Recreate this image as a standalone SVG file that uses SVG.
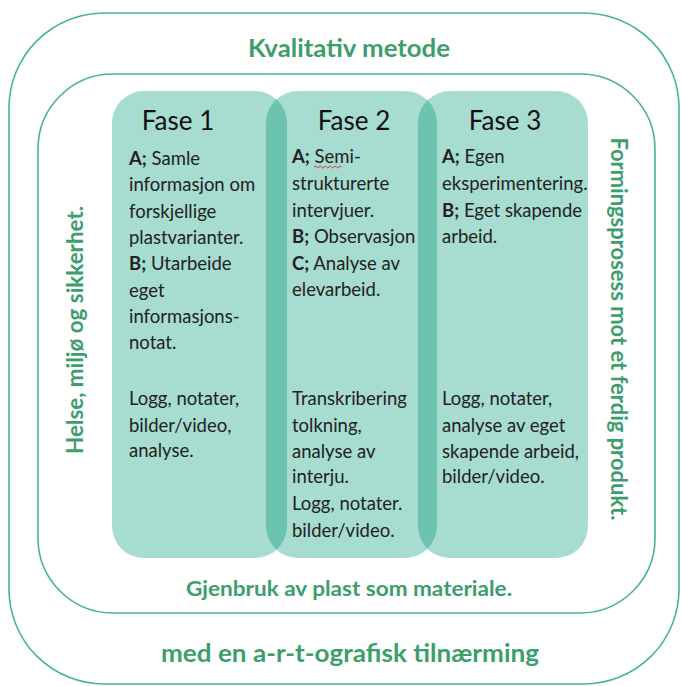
<svg xmlns="http://www.w3.org/2000/svg" width="681" height="686" viewBox="0 0 681 686">
<defs>
<style>
.frame{fill:none;stroke:#45b497;stroke-width:1.6}
.phase{fill:#a7dcd0}
.ov{fill:#6cc3af}
.g{fill:#3c9e6b;font-family:Lato,"Open Sans",sans-serif;font-weight:bold}
.h{font-family:Lato,"Open Sans",sans-serif;font-size:26px;fill:#111;text-anchor:middle}
.t{font-family:Lato,"Open Sans",sans-serif;font-size:18.5px;fill:#222}
.b{font-weight:bold}
</style>
<clipPath id="c1"><rect x="112" y="91" width="175" height="467" rx="32"/></clipPath>
<clipPath id="c3"><rect x="418" y="91" width="170" height="467" rx="32"/></clipPath>
</defs>
<g id="outer"><rect class="frame" x="9" y="13" width="670" height="671" rx="95"/>
<text class="g" x="349" y="57" font-size="24" text-anchor="middle" textLength="202" lengthAdjust="spacingAndGlyphs">Kvalitativ metode</text>
<text class="g" x="350" y="662" font-size="24" text-anchor="middle" textLength="378" lengthAdjust="spacingAndGlyphs">med en a-r-t-ografisk tilnærming</text></g>
<g id="inner"><rect class="frame" x="38" y="74" width="617" height="539" rx="75"/>
<text class="g" x="349" y="596" font-size="21" text-anchor="middle" textLength="326" lengthAdjust="spacingAndGlyphs">Gjenbruk av plast som materiale.</text>
<text class="g" font-size="22" text-anchor="middle" textLength="248" lengthAdjust="spacingAndGlyphs" transform="translate(83,330) rotate(-90)">Helse, miljø og sikkerhet.</text>
<text class="g" font-size="22" text-anchor="middle" textLength="383" lengthAdjust="spacingAndGlyphs" transform="translate(611,329) rotate(90)">Formingsprosess mot et ferdig produkt.</text></g>
<g id="phases">
<rect class="phase" x="112" y="91" width="175" height="467" rx="32"/>
<rect class="phase" x="266" y="91" width="171" height="467" rx="32"/>
<rect class="phase" x="418" y="91" width="170" height="467" rx="32"/>
<rect class="ov" x="266" y="91" width="171" height="467" rx="32" clip-path="url(#c1)"/>
<rect class="ov" x="266" y="91" width="171" height="467" rx="32" clip-path="url(#c3)"/>
</g>
<g id="fase1">
<text class="h" x="178" y="130">Fase 1</text>
<text class="t" x="129"><tspan x="129" y="165"><tspan class="b">A;</tspan> Samle</tspan><tspan x="129" y="191">informasjon om</tspan><tspan x="129" y="218">forskjellige</tspan><tspan x="129" y="244">plastvarianter.</tspan><tspan x="129" y="270"><tspan class="b">B;</tspan> Utarbeide</tspan><tspan x="129" y="297">eget</tspan><tspan x="129" y="323">informasjons-</tspan><tspan x="129" y="349">notat.</tspan></text>
<text class="t"><tspan x="129" y="405">Logg, notater,</tspan><tspan x="129" y="432">bilder/video,</tspan><tspan x="129" y="457">analyse.</tspan></text>
</g>
<g id="fase2">
<text class="h" x="354" y="130">Fase 2</text>
<text class="t"><tspan x="292" y="163"><tspan class="b">A;</tspan> Semi-</tspan><tspan x="292" y="190">strukturerte</tspan><tspan x="292" y="217">intervjuer.</tspan><tspan x="292" y="243"><tspan class="b">B;</tspan> Observasjon</tspan><tspan x="292" y="270"><tspan class="b">C;</tspan> Analyse av</tspan><tspan x="292" y="296">elevarbeid.</tspan></text>
<path d="M314 167 q1.25 -2 2.5 0 t2.5 0 t2.5 0 t2.5 0 t2.5 0 t2.5 0 t2.5 0 t2.5 0 t2.5 0 t2.5 0 t2.5 0" fill="none" stroke="#e02020" stroke-width="0.9"/>
<text class="t"><tspan x="292" y="405">Transkribering</tspan><tspan x="292" y="432">tolkning,</tspan><tspan x="292" y="458">analyse av</tspan><tspan x="292" y="483">interju.</tspan><tspan x="292" y="510">Logg, notater.</tspan><tspan x="292" y="537">bilder/video.</tspan></text>
</g>
<g id="fase3">
<text class="h" x="505" y="130">Fase 3</text>
<text class="t"><tspan x="442" y="163"><tspan class="b">A;</tspan> Egen</tspan><tspan x="442" y="190">eksperimentering.</tspan><tspan x="442" y="217"><tspan class="b">B;</tspan> Eget skapende</tspan><tspan x="442" y="243">arbeid.</tspan></text>
<text class="t"><tspan x="442" y="405">Logg, notater,</tspan><tspan x="442" y="432">analyse av eget</tspan><tspan x="442" y="458">skapende arbeid,</tspan><tspan x="442" y="483">bilder/video.</tspan></text>
</g>
</svg>
